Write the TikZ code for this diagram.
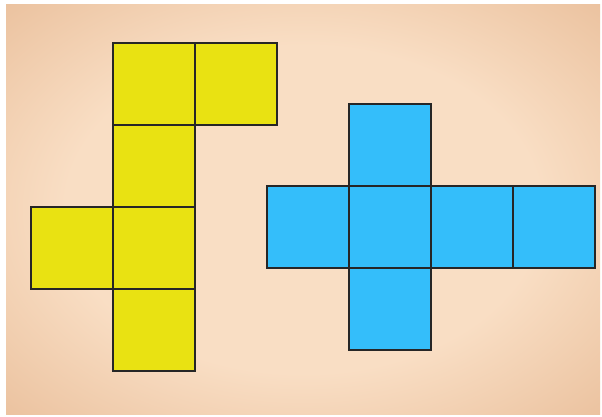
\documentclass[tikz,border=0pt]{standalone}
\usetikzlibrary{positioning}

\definecolor{paperin}{RGB}{249,222,196}
\definecolor{paperout}{RGB}{224,172,130}
\definecolor{netyellow}{RGB}{233,226,18}
\definecolor{netblue}{RGB}{52,190,250}

\pgfdeclareradialshading{parchment}{\pgfpoint{0bp}{0bp}}{%
  color(0bp)=(paperin); color(20bp)=(paperin);
  color(48bp)=(paperout); color(75bp)=(paperout)}

\tikzset{
  face/.style={draw=black!85, line width=1.6pt, line join=miter},
}

\begin{document}
\begin{tikzpicture}[x=1pt,y=-1pt]

  \def\s{82}   % side of one square

  % ----------------------------------------------------------------
  % page and parchment
  % ----------------------------------------------------------------
  \useasboundingbox (0,0) rectangle (602,417);
  \fill[white] (0,0) rectangle (602,417);
  \shade[shading=parchment] (6,5) rectangle (600,414);

  % ----------------------------------------------------------------
  % yellow net (column/row of each square)
  % ----------------------------------------------------------------
  \begin{scope}[shift={(31,43)}]
    \foreach \c/\r in {1/0, 2/0, 1/1, 0/2, 1/2, 1/3} {
      \filldraw[face, fill=netyellow]
        ({\c*\s},{\r*\s}) rectangle ({(\c+1)*\s},{(\r+1)*\s});
    }
  \end{scope}

  % ----------------------------------------------------------------
  % blue net
  % ----------------------------------------------------------------
  \begin{scope}[shift={(267,104)}]
    \foreach \c/\r in {1/0, 0/1, 1/1, 2/1, 3/1, 1/2} {
      \filldraw[face, fill=netblue]
        ({\c*\s},{\r*\s}) rectangle ({(\c+1)*\s},{(\r+1)*\s});
    }
  \end{scope}

\end{tikzpicture}
\end{document}
